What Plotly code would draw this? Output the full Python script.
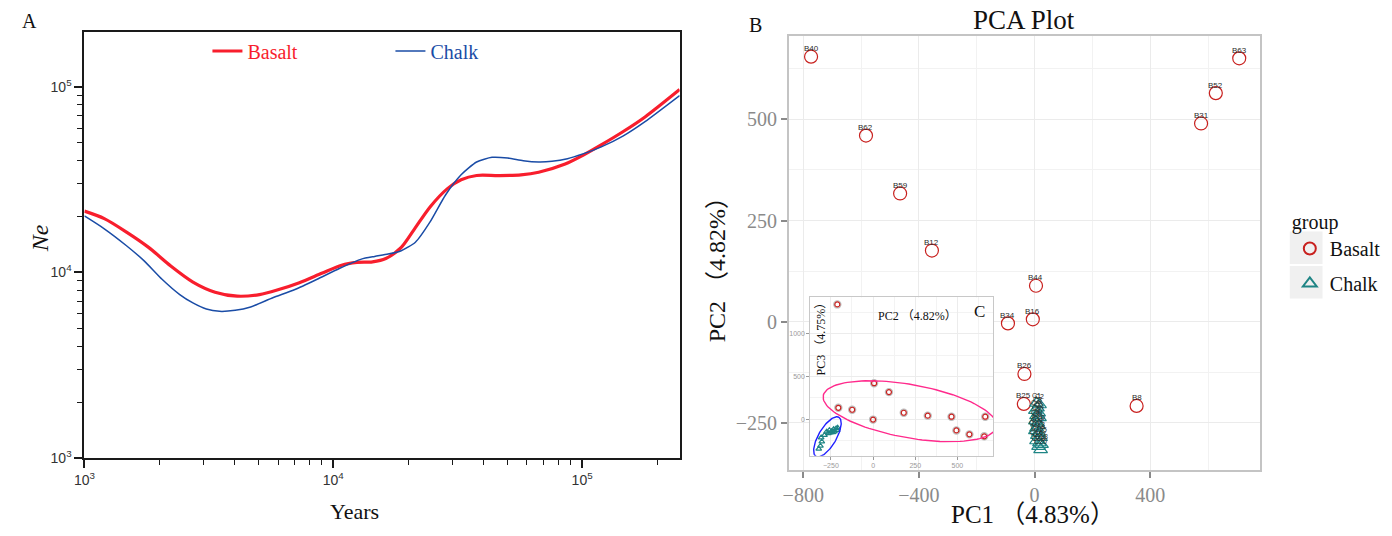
import numpy as np
import plotly.graph_objects as go

W, H = 1392, 536
SERIF = "Liberation Serif, Noto Sans CJK SC"
SANS = "Liberation Sans, Arial"

# ---- Panel A: effective population size through time ----
years_basalt = [1000, 1202, 1476, 1811, 2223, 2729, 3350, 4110, 5050, 5950, 7310, 8980,
                10800, 12450, 14380, 16260, 18760, 21220, 24490, 28850, 32640, 37670,
                46250, 56780, 66890, 85480, 100700, 118800, 145800, 179000, 246500]
ne_basalt = [21400, 19500, 16500, 13650, 10840, 8880, 7830, 7450, 7600, 8040, 8810, 9890,
             10940, 11320, 11410, 11890, 13650, 17180, 22550, 28380, 31560, 33300,
             33270, 33570, 34670, 38380, 42760, 48500, 57270, 68840, 96700]

years_chalk = [1000, 1202, 1476, 1738, 2051, 2416, 2729, 3090, 3490, 4036, 4656, 5715,
               7015, 8610, 10570, 12970, 14660, 16600, 18750, 21380, 24490, 28250, 32640,
               37670, 43450, 50230, 57970, 66830, 75680, 87300, 100700, 118800, 145800,
               179000, 246500]
ne_chalk = [20150, 17180, 13930, 11550, 9190, 7600, 6850, 6350, 6170, 6250, 6520, 7300,
            8090, 9190, 10500, 11800, 12200, 12560, 13100, 14540, 18710, 26150, 33600,
            39370, 41720, 41370, 40010, 39370, 39700, 41030, 43520, 47340, 54310,
            65010, 89800]

log_major = [1e3, 1e4, 1e5]
log_major_text = ["10<sup>3</sup>", "10<sup>4</sup>", "10<sup>5</sup>"]
log_minor = [m * 10 ** k for k in (3, 4, 5) for m in range(2, 10)]

# ---- Panel B: PCA (PC1 vs PC2) ----
basalt_ids = ["B40", "B62", "B59", "B12", "B63", "B52", "B31", "B44", "B16", "B34",
              "B26", "B25", "B8"]
basalt_pc1 = [-773, -583, -465, -355, 708, 627, 576, 5, -6, -92, -35, -37, 353]
basalt_pc2 = [655, 460, 317, 176, 651, 565, 490, 89, 6, -4, -129, -203, -208]

chalk_ids = ["C%d" % i for i in range(1, 21)]
chalk_pc1 = [7, 17, 10, 3, 14, 7, 17, 3, 10, 14, 7, 3, 14, 10, 21, 7, 17, 24, 14, 21]
chalk_pc2 = [-201, -205, -213, -219, -225, -232, -237, -245, -250, -257, -262, -269,
             -274, -281, -286, -294, -299, -303, -308, -316]

pc1_ticks = [-800, -400, 0, 400]
pc2_ticks = [-250, 0, 250, 500]

# ---- Inset C: PC2 vs PC3 ----
basalt_in_pc2 = [-212, -206, -124, 0, 6, 94, 182, 324, 465, 494, 571, 659, 665]
basalt_in_pc3 = [1346, 135, 112, -3, 423, 319, 77, 43, 31, -130, -176, -199, 31]
chalk_in_pc2 = [-322, -312, -304, -308, -288, -275, -259, -245, -234, -219, -213, -229,
                -239, -253, -210, -265]
chalk_in_pc3 = [-346, -311, -261, -214, -184, -145, -127, -138, -115, -107, -127, -145,
                -153, -157, -99, -165]
inset_x_ticks = [-250, 0, 250, 500]
inset_y_ticks = [0, 500, 1000]

# group ellipses: centre, first and second conjugate semi-axis vectors
ellipse_basalt = {"center": [218, 95], "u": [513.5, -182.2], "v": [-28.2, -306.7]}
ellipse_chalk = {"center": [-270.6, -205.2], "u": [67.6, 229.4], "v": [45.9, -51.9]}

RED_LINE = "#f81e2d"
BLUE_LINE = "#1a4ca6"
RED_PT = "#c8201e"
TEAL_PT = "#1f8585"


def px_x(p):
    return p / W


def px_y(p):
    return 1 - p / H


def ellipse_path(e, n=120):
    t = np.linspace(0, 2 * np.pi, n)
    cx, cy = e["center"]
    ux, uy = e["u"]
    vx, vy = e["v"]
    return cx + ux * np.cos(t) + vx * np.sin(t), cy + uy * np.cos(t) + vy * np.sin(t)


fig = go.Figure()

# Panel A lines
fig.add_trace(go.Scatter(
    x=years_basalt, y=ne_basalt, mode="lines", xaxis="x", yaxis="y",
    line=dict(color=RED_LINE, width=3.2, shape="spline", smoothing=0.8),
    name="<span style='color:%s'>Basalt</span>" % RED_LINE, legend="legend2"))
fig.add_trace(go.Scatter(
    x=years_chalk, y=ne_chalk, mode="lines", xaxis="x", yaxis="y",
    line=dict(color=BLUE_LINE, width=1.5, shape="spline", smoothing=0.6),
    name="<span style='color:%s'>Chalk</span>" % BLUE_LINE, legend="legend2"))

# Panel B points
fig.add_trace(go.Scatter(
    x=basalt_pc1, y=basalt_pc2, mode="markers", xaxis="x2", yaxis="y2",
    marker=dict(symbol="circle-open", size=13, color=RED_PT, line=dict(width=1.2)),
    name="Basalt", legend="legend", legendgroup="basalt", cliponaxis=False))
fig.add_trace(go.Scatter(
    x=chalk_pc1, y=chalk_pc2, mode="markers", xaxis="x2", yaxis="y2",
    marker=dict(symbol="triangle-up-open", size=12, color=TEAL_PT, line=dict(width=1.2)),
    name="Chalk", legend="legend", legendgroup="chalk", cliponaxis=False))

# sample names sit just above each point, overlapping the symbol edge
for ids, xs, ys, fsize in ((basalt_ids, basalt_pc1, basalt_pc2, 8),
                           (chalk_ids, chalk_pc1, chalk_pc2, 7)):
    for name, xv, yv in zip(ids, xs, ys):
        fig.add_annotation(text=name, x=xv, y=yv, xref="x2", yref="y2", showarrow=False,
                           xanchor="center", yanchor="middle", yshift=8,
                           font=dict(family=SANS, size=fsize, color="#2a2a2a"))

# Inset points with soft grey halo
fig.add_trace(go.Scatter(
    x=basalt_in_pc2, y=basalt_in_pc3, mode="markers", xaxis="x3", yaxis="y3",
    marker=dict(symbol="circle-open", size=7, color="#bdbdbd", line=dict(width=1.4)),
    showlegend=False, hoverinfo="skip"))
fig.add_trace(go.Scatter(
    x=basalt_in_pc2, y=basalt_in_pc3, mode="markers", xaxis="x3", yaxis="y3",
    marker=dict(symbol="circle-open", size=5, color=RED_PT, line=dict(width=1.2)),
    showlegend=False))
fig.add_trace(go.Scatter(
    x=chalk_in_pc2, y=chalk_in_pc3, mode="markers", xaxis="x3", yaxis="y3",
    marker=dict(symbol="triangle-up-open", size=5, color=TEAL_PT, line=dict(width=1.2)),
    showlegend=False))

ex, ey = ellipse_path(ellipse_basalt)
fig.add_trace(go.Scatter(x=ex, y=ey, mode="lines", xaxis="x3", yaxis="y3",
                         line=dict(color="#ff2a8c", width=1.4), showlegend=False,
                         hoverinfo="skip"))
ex, ey = ellipse_path(ellipse_chalk)
fig.add_trace(go.Scatter(x=ex, y=ey, mode="lines", xaxis="x3", yaxis="y3",
                         line=dict(color="#1f1fff", width=1.4), showlegend=False,
                         hoverinfo="skip"))

axA = dict(type="log", showline=True, linecolor="#1a1a1a", linewidth=2, mirror=True,
           ticks="outside", ticklen=8, tickwidth=1.5, tickcolor="#1a1a1a",
           tickvals=log_major, ticktext=log_major_text, showgrid=False, zeroline=False,
           tickfont=dict(family=SANS, size=14, color="#333333"),
           minor=dict(tickvals=log_minor, ticks="outside", ticklen=5, tickwidth=1.2,
                      tickcolor="#1a1a1a", showgrid=False))

axB = dict(showline=True, linecolor="#c4c4c4", linewidth=1.5, mirror=True,
           ticks="outside", ticklen=6, tickwidth=2, tickcolor="#8a8a8a",
           showgrid=True, gridcolor="#ebebeb", gridwidth=1, zeroline=False,
           tickfont=dict(family=SERIF, size=20, color="#8a8a8a"))

axC = dict(showline=True, linecolor="#c8c8c8", linewidth=1.2, mirror=True,
           ticks="outside", ticklen=3, tickwidth=1, tickcolor="#9a9a9a",
           showgrid=True, gridcolor="#ececec", gridwidth=1, zeroline=False,
           tickfont=dict(family=SANS, size=7, color="#9a9a9a"))

fig.update_layout(
    width=W, height=H, margin=dict(l=0, r=0, t=0, b=0),
    paper_bgcolor="white", plot_bgcolor="white",
    xaxis=dict(axA, domain=[px_x(74), px_x(674)], anchor="y", range=[3, 5.392]),
    yaxis=dict(axA, domain=[px_y(465), px_y(32)], anchor="x", range=[3, 5.298]),
    xaxis2=dict(axB, domain=[px_x(784), px_x(1259)], anchor="y2", range=[-850, 780],
                tickvals=pc1_ticks,
                minor=dict(dtick=200, showgrid=True, gridcolor="#f2f2f2")),
    yaxis2=dict(axB, domain=[px_y(477), px_y(37)], anchor="x2", range=[-366, 705],
                tickvals=pc2_ticks,
                minor=dict(dtick=125, showgrid=True, gridcolor="#f2f2f2")),
    xaxis3=dict(axC, domain=[px_x(805.7), px_x(990)], anchor="y3", range=[-372, 712],
                tickvals=inset_x_ticks,
                minor=dict(dtick=125, showgrid=True, gridcolor="#f3f3f3")),
    yaxis3=dict(axC, domain=[px_y(462.7), px_y(302)], anchor="x3", range=[-427, 1427],
                tickvals=inset_y_ticks,
                minor=dict(dtick=250, showgrid=True, gridcolor="#f3f3f3")),
    legend=dict(x=px_x(1289), y=px_y(206), xanchor="left", yanchor="top",
                bgcolor="rgba(0,0,0,0)", tracegroupgap=6, itemsizing="constant",
                title=dict(text="group", font=dict(family=SERIF, size=20, color="#111111")),
                font=dict(family=SERIF, size=20, color="#111111")),
    legend2=dict(x=px_x(198), y=px_y(32), xanchor="left", yanchor="top",
                 orientation="h", entrywidth=138, entrywidthmode="pixels",
                 bgcolor="rgba(0,0,0,0)",
                 font=dict(family=SERIF, size=20)),
    showlegend=True,
)

# grey key backgrounds of the group legend
for top in (235, 270):
    fig.add_shape(type="rect", xref="paper", yref="paper",
                  x0=px_x(1289), x1=px_x(1322), y0=px_y(top + 33), y1=px_y(top),
                  fillcolor="#f0f0f0", line=dict(width=0), layer="below")


def label(text, x, y, size, angle=0, family=SERIF, color="#111111"):
    fig.add_annotation(text=text, x=px_x(x), y=px_y(y), xref="paper", yref="paper",
                       showarrow=False, textangle=angle, xanchor="center",
                       yanchor="middle", font=dict(family=family, size=size, color=color))


label("A", 19, 21, 20)
label("B", 750, 25, 20)
label("PCA Plot", 1021, 20, 27)
label("Years", 346, 519, 22)
label("<i>Ne</i>", 30, 242, 24, angle=-90)
label("PC1 （4.83%）", 1030, 522, 25)
label("PC2 （4.82%）", 712, 268, 24, angle=-90)
label("PC2 （4.82%）", 914, 321, 12)
label("C", 976, 316, 17)
label("PC3 （4.75%）", 816, 341, 12, angle=-90)

fig.write_html("out.html")
